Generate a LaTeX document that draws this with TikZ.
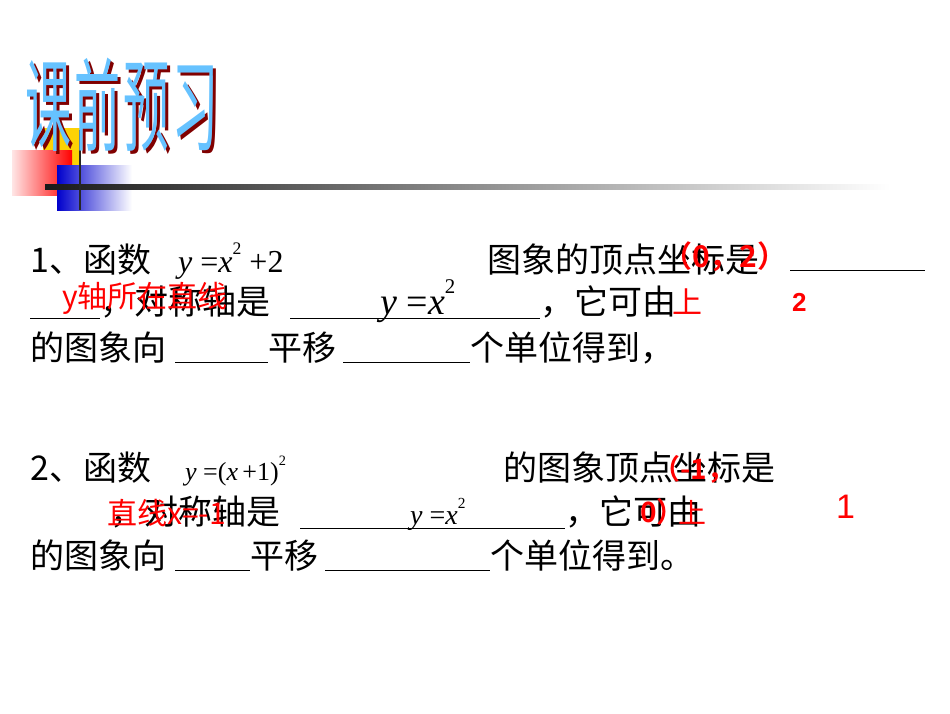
\documentclass[tikz,border=0pt]{standalone}
\usepackage{fontspec}
\setmainfont{Liberation Serif}
\newfontfamily\cjk{Noto Sans CJK SC}
\newfontfamily\cjkb{Noto Sans CJK SC Bold}
\newfontfamily\lsans{Liberation Sans}
\newfontfamily\lserif{Liberation Serif}
\newcommand{\myi}[1]{{\itshape #1}}
\newcommand{\mysq}{\raisebox{0.55em}{\scalebox{0.55}{2}}}
\begin{document}
\begin{tikzpicture}[x=1pt,y=-1pt,
  txt/.style={anchor=base west,inner sep=0pt,font=\cjk\fontsize{34}{34}\selectfont},
  mth/.style={anchor=base west,inner sep=0pt,font=\lserif\fontsize{32}{32}\selectfont},
  red/.style={anchor=base west,inner sep=0pt,text=red},
  blank/.style={line width=1pt}]
\useasboundingbox (0,0) rectangle (950,713);
% decorations
\fill[yellow!70!orange] (43,128) rectangle (80,175);
\shade[left color=red!10, right color=red] (12,150) rectangle (72,195);
\shade[left color=blue!80!black, right color=white] (57,165) rectangle (132,210);
\shade[left color=black!90, right color=white] (45,184.5) rectangle (890,189.5);
\draw[line width=2pt, black!85] (80,130) -- (80,210);
% title
\foreach \c/\xx in {课/25,前/74,预/123,习/172}{
  \node[anchor=base west,inner sep=0pt,text=red!50!black,xscale=0.5,yscale=1.1,font=\cjk\fontsize{92}{92}\selectfont] at (\xx+3,146) {\c};
  \node[anchor=base west,inner sep=0pt,text=blue!40!cyan!60,xscale=0.5,yscale=1.1,font=\cjk\fontsize{92}{92}\selectfont] (t\xx) at (\xx,143) {\c};
}
% item 1
\node[txt] (a1) at (30,272) {1、函数};
\node[mth] (m1) at (178,272) {\myi{y} =\myi{x}\mysq\ +2};
\node[txt] (a2) at (487,272) {图象的顶点坐标是};
\draw[blank] (790,270) -- (925,270);
\draw[blank] (30,318) -- (100,318);
\node[txt] (a3) at (100,314) {，对称轴是};
\draw[blank] (290,318) -- (540,318);
\node[mth,font=\lserif\fontsize{38}{38}\selectfont] (m2) at (380,314) {\myi{y} =\myi{x}\mysq};
\node[txt] (a4) at (540,314) {，它可由};
\node[txt] (a5) at (30,360) {的图象向};
\draw[blank] (175,362) -- (268,362);
\node[txt] (a6) at (268,360) {平移};
\draw[blank] (343,362) -- (470,362);
\node[txt] (a7) at (470,360) {个单位得到，};
% red answers 1
\node[red,font=\cjkb\fontsize{30}{30}\selectfont] (r1) at (662,267) {（0，2）};
\node[red,font=\cjk\fontsize{30}{30}\selectfont] (r2) at (62,307) {y轴所在直线};
\node[red,font=\cjk\fontsize{30}{30}\selectfont] (r3) at (672,313) {上};
\node[red,font=\lsans\bfseries\fontsize{26}{26}\selectfont] (r4) at (792,311) {2};
% item 2
\node[txt] (b1) at (30,480) {2、函数};
\node[mth,font=\lserif\fontsize{26}{26}\selectfont] (n1) at (185,480) {\myi{y} =(\myi{x}\,+1)\mysq};
\node[txt] (b2) at (503,480) {的图象顶点坐标是};
\node[txt] (b3) at (110,524) {，对称轴是};
\draw[blank] (300,528) -- (565,528);
\node[mth,font=\lserif\fontsize{28}{28}\selectfont] (n2) at (410,524) {\myi{y} =\myi{x}\mysq};
\node[txt] (b4) at (565,524) {，它可由};
\node[txt] (b5) at (30,568) {的图象向};
\draw[blank] (175,570) -- (250,570);
\node[txt] (b6) at (250,568) {平移};
\draw[blank] (325,570) -- (490,570);
\node[txt] (b7) at (490,568) {个单位得到。};
% red answers 2
\node[red,font=\cjk\fontsize{30}{30}\selectfont] (s1) at (107,524) {直线x=-1};
\node[red,font=\cjkb\fontsize{28}{28}\selectfont] (s2) at (652,479) {（-1，};
\node[red,font=\cjkb\fontsize{28}{28}\selectfont] (s3) at (640,522) {0）};
\node[red,font=\cjk\fontsize{28}{28}\selectfont] (s4) at (678,523) {上};
\node[red,font=\lsans\fontsize{34}{34}\selectfont] (s5) at (836,518) {1};
\end{tikzpicture}
\end{document}
